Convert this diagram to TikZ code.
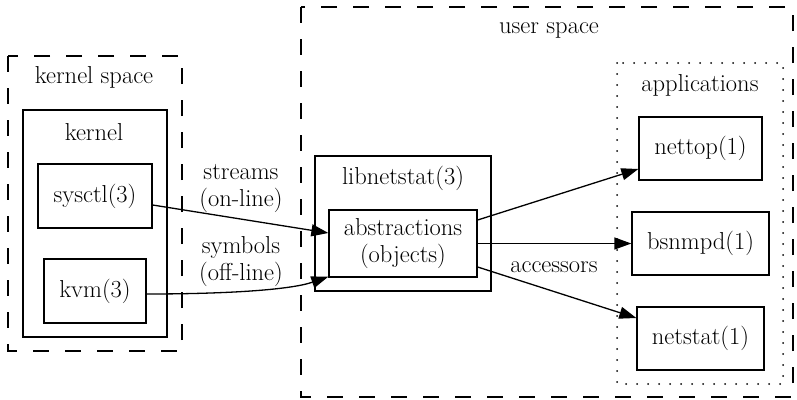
\documentclass[tikz,border=0pt]{standalone}
\usetikzlibrary{arrows.meta,calc}
\begin{document}
\begin{tikzpicture}[x=1pt,y=-1pt,
  every node/.style={font=\fontsize{24.5}{27}\selectfont, inner sep=0pt},
  box/.style={draw, line width=1.3pt, align=center},
  lbl/.style={align=center},
  dashbox/.style={draw, line width=1.3pt, dash pattern=on 16pt off 16pt},
  dotbox/.style={draw, line width=2pt, line cap=round, dash pattern=on 0pt off 11pt},
  solidbox/.style={draw, line width=1.3pt},
  conn/.style={line width=1.3pt, -{Triangle[length=17pt,width=12pt]}}]
\useasboundingbox (0,0) rectangle (797,399);
% clusters
\draw[dashbox] (8,56) rectangle (182,351);
\draw[solidbox] (23,110) rectangle (167,337);
\draw[dashbox] (301,7) rectangle (793,397);
\draw[solidbox] (315,156) rectangle (491,291);
\draw[dotbox] (617,63) rectangle (783,384);
% cluster labels
\node[lbl] (kslabel) at (94,77) {kernel space};
\node[lbl] (klabel) at (94,132) {kernel};
\node[lbl] (uslabel) at (549,30) {user space};
\node[lbl] (liblabel) at (403,178) {libnetstat(3)};
\node[lbl] (applabel) at (700,85) {applications};
% nodes
\node[box, minimum width=114pt, minimum height=64pt] (sysctl) at (95,196) {sysctl(3)};
\node[box, minimum width=102pt, minimum height=64pt] (kvm) at (95,291) {kvm(3)};
\node[box, minimum width=148pt, minimum height=67pt] (abs) at (403,243.5) {abstractions\\(objects)};
\node[box, minimum width=123pt, minimum height=63pt] (nettop) at (700.5,148.5) {nettop(1)};
\node[box, minimum width=137pt, minimum height=63pt] (bsnmpd) at (700.5,243.5) {bsnmpd(1)};
\node[box, minimum width=127pt, minimum height=63pt] (netstat) at (700.5,338.5) {netstat(1)};
% edges
\draw[conn] ($(sysctl.east)+(0,9)$) -- ($(abs.west)+(0,-10.5)$);
\draw[conn] ($(kvm.east)+(0,3)$) .. controls (225,294) and (290,290) .. ($(abs.south west)+(0,-1)$);
\draw[conn] ($(abs.east)+(0,-23.5)$) -- ($(nettop.west)+(0,20.5)$);
\draw[conn] (abs.east) -- (bsnmpd.west);
\draw[conn] ($(abs.east)+(0,23.5)$) -- ($(netstat.west)+(0,-20.5)$);
% edge labels
\node[lbl] (l1) at (241,189) {streams\\(on-line)};
\node[lbl] (l2) at (241,262) {symbols\\(off-line)};
\node[lbl] (l3) at (554,267) {accessors};
\end{tikzpicture}
\end{document}
